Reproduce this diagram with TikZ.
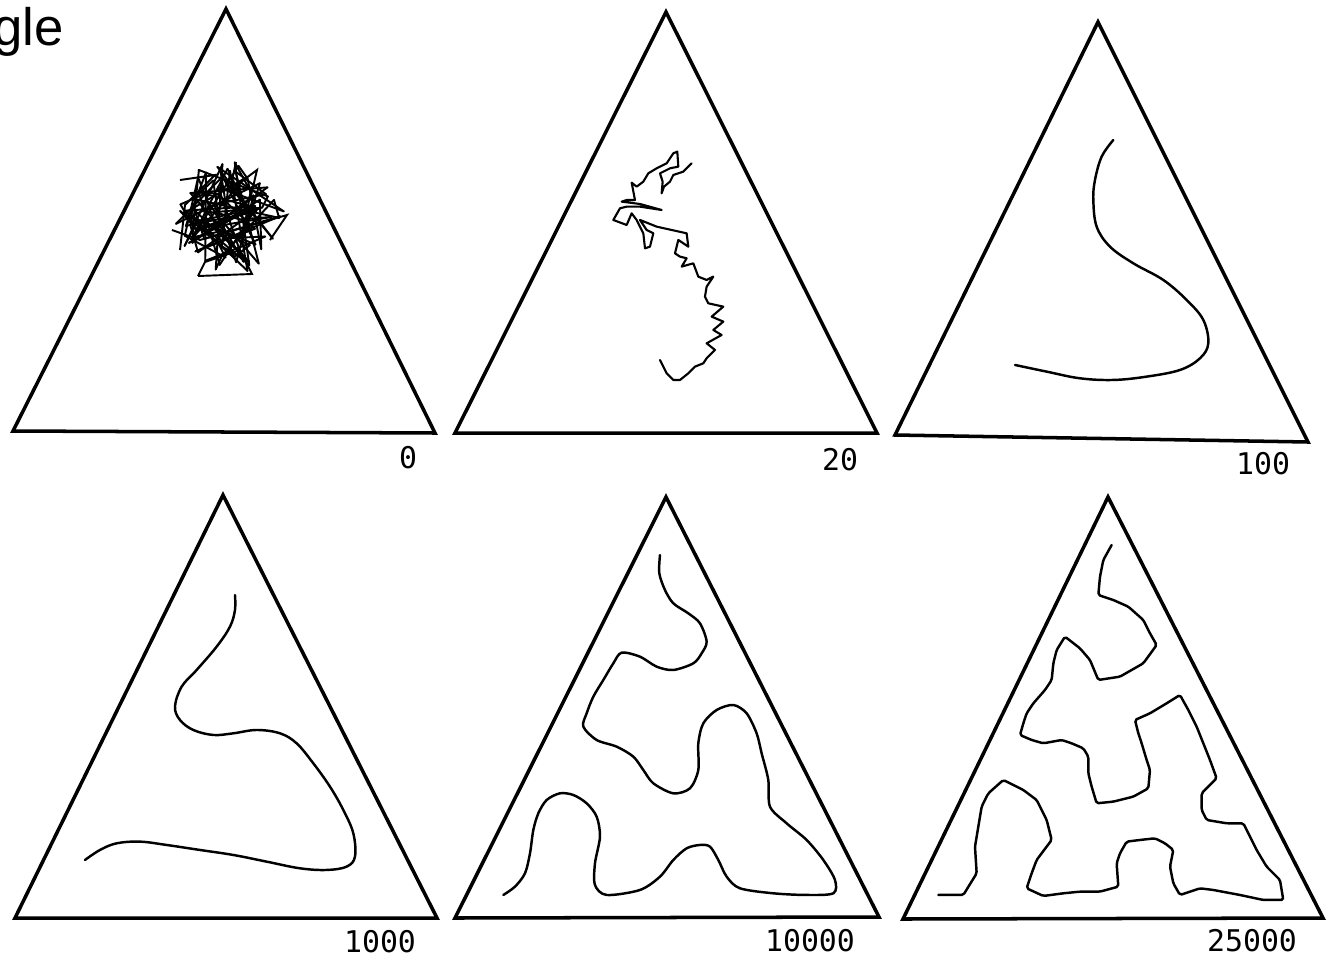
\documentclass[tikz,border=0pt]{standalone}
\usepackage{fontspec}
\newfontfamily\lblfont{DejaVu Sans Mono}
\newfontfamily\titlefont{Liberation Sans}
\begin{document}
\begin{tikzpicture}[x=0.02cm,y=-0.02cm,
  tri/.style={line width=2pt,line join=miter},
  chain/.style={line width=1.4pt,line join=round,line cap=round},
  lbl/.style={font=\lblfont\fontsize{17}{17}\selectfont,inner sep=0pt}]
\useasboundingbox (0,0) rectangle (1331,960);
\clip (0,0) rectangle (1331,960);
\fill[white] (0,0) rectangle (1331,960);
% title fragment
\node[font=\titlefont\fontsize{30}{30}\selectfont,anchor=base east,inner sep=0pt] (title) at (64,45) {gle};
% triangles
\draw[tri] (226,9) -- (13,431) -- (435,433) -- cycle;
\draw[tri] (666,12) -- (455,433) -- (877,433) -- cycle;
\draw[tri] (1098,22) -- (895,435) -- (1308,442) -- cycle;
\draw[tri] (223,495) -- (15,918) -- (437,918) -- cycle;
\draw[tri] (666,497) -- (455,918) -- (879,917) -- cycle;
\draw[tri] (1108,497) -- (903,919) -- (1323,918) -- cycle;
% labels
\node[lbl] (l0) at (408,458) {0};
\node[lbl] (l20) at (840,460) {20};
\node[lbl] (l100) at (1263,464) {100};
\node[lbl] (l1000) at (380,942) {1000};
\node[lbl] (l10000) at (810,941) {10000};
\node[lbl] (l25000) at (1252,941) {25000};
% panel 0: random initial chain
\pgfmathsetseed{47}
\xdef\px{228}\xdef\py{218}
\foreach \i in {1,...,100}{
  \pgfmathsetmacro\ang{360*rnd}
  \pgfmathsetmacro\rad{57*(rnd)^0.45}
  \pgfmathsetmacro\nx{229+\rad*cos(\ang)}
  \pgfmathsetmacro\ny{218+\rad*sin(\ang)}
  \draw[line width=1.1pt,line cap=round] (\px,\py) -- (\nx,\ny);
  \xdef\px{\nx}\xdef\py{\ny}
}
\draw[line width=1.1pt] (198,276) -- (252,274) -- (240,250) -- (205,262) -- (198,276);
\draw[line width=1.1pt] (236,162) -- (230,190) -- (257,170) -- (250,200);
\draw[line width=1.1pt] (172,230) -- (200,240) -- (287,215) -- (270,240);
\draw[line width=1.1pt] (180,180) -- (215,175) -- (185,205) -- (180,250);
% panel 20
\begin{scope}[shift={(440,0)},scale=0.3333]
\draw[chain,line width=1.2pt] (755,490) -- (730,515) -- (700,525) -- (690,545) -- (672,560) -- (665,580) -- (668,545) -- (660,520) -- (690,505) -- (715,500) -- (712,455) -- (700,460) -- (680,490) -- (650,505) -- (625,520) -- (610,545) -- (590,560) -- (575,548) -- (585,600) -- (560,600) -- (545,605) -- (600,612) -- (665,630) -- (600,620) -- (560,620) -- (540,625) -- (520,660) -- (560,675) -- (575,640) -- (590,660) -- (610,700) -- (615,745) -- (630,740) -- (640,700) -- (620,690) -- (600,660) -- (650,680) -- (740,700) -- (745,740) -- (715,720) -- (705,760) -- (720,770) -- (740,775) -- (725,800) -- (760,790) -- (775,830) -- (800,840) -- (820,830) -- (800,860) -- (795,890) -- (805,910) -- (850,920) -- (815,950) -- (850,965) -- (820,990) -- (845,1005) -- (800,1030) -- (825,1050) -- (800,1075) -- (790,1090) -- (765,1100) -- (745,1120) -- (720,1140) -- (700,1140) -- (680,1120) -- (670,1100) -- (660,1080);
\end{scope}
% panel 100
\begin{scope}[shift={(880,0)},scale=0.3333]
\draw[chain] plot[smooth,tension=0.6] coordinates {(700,420) (665,470) (645,540) (640,600) (650,680) (690,740) (760,790) (850,840) (920,900) (970,960) (985,1030) (960,1075) (900,1110) (800,1130) (700,1140) (600,1135) (500,1115) (405,1095)};
\end{scope}
% panel 1000
\begin{scope}[shift={(0,480)},scale=0.3333]
\draw[chain] plot[smooth,tension=0.6] coordinates {(705,345) (705,390) (690,440) (650,500) (590,570) (545,620) (525,680) (540,720) (580,750) (640,765) (700,760) (770,750) (840,760) (890,790) (940,850) (990,920) (1030,990) (1060,1060) (1065,1130) (1040,1160) (980,1170) (900,1165) (800,1145) (700,1125) (600,1110) (500,1095) (420,1085) (350,1090) (300,1110) (255,1140)};
\end{scope}
% panel 10000
\begin{scope}[shift={(440,480)},scale=0.3333]
\draw[chain] plot[smooth,tension=0.5] coordinates {(660,225) (658,280) (675,330) (700,370) (745,400) (780,430) (800,485) (785,520) (760,550) (700,570) (650,560) (600,530) (545,518) (520,550) (490,600) (460,650) (440,700) (430,740) (470,780) (530,800) (580,830) (610,870) (640,910) (700,940) (750,925) (775,870) (775,790) (790,730) (830,690) (880,675) (920,700) (950,760) (965,820) (985,900) (990,980) (1040,1030) (1100,1080) (1150,1140) (1185,1200) (1180,1240) (1100,1245) (1000,1240) (900,1225) (860,1190) (835,1140) (810,1100) (780,1095) (740,1105) (700,1140) (660,1190) (600,1230) (500,1245) (465,1215) (465,1150) (480,1070) (470,1010) (440,970) (400,945) (360,940) (320,960) (295,1000) (280,1050) (270,1120) (255,1180) (225,1220) (190,1245)};
\end{scope}
% panel 25000
\begin{scope}[shift={(880,480)},scale=0.3333]
\draw[chain,rounded corners=1pt] (695,195) -- (670,240) -- (660,290) -- (655,345) -- (700,360) -- (745,380) -- (790,420) -- (810,460) -- (830,495) -- (790,550) -- (720,590) -- (655,600) -- (630,540) -- (600,505) -- (555,470) -- (530,510) -- (520,550) -- (515,600) -- (495,630) -- (460,670) -- (440,700) -- (430,730) -- (420,765) -- (455,780) -- (490,790) -- (545,780) -- (575,790) -- (610,805) -- (625,830) -- (625,880) -- (635,920) -- (650,970) -- (700,965) -- (760,950) -- (805,925) -- (810,870) -- (800,840) -- (785,790) -- (775,760) -- (765,720) -- (810,700) -- (860,670) -- (900,645) -- (925,690) -- (950,740) -- (970,790) -- (990,840) -- (1010,895) -- (985,920) -- (965,940) -- (965,990) -- (980,1020) -- (1040,1030) -- (1090,1030) -- (1105,1060) -- (1130,1110) -- (1160,1160) -- (1200,1200) -- (1210,1260) -- (1150,1260) -- (1080,1245) -- (1000,1230) -- (960,1225) -- (900,1245) -- (880,1210) -- (870,1160) -- (880,1110) -- (855,1090) -- (825,1075) -- (780,1080) -- (740,1085) -- (720,1120) -- (710,1150) -- (715,1220) -- (660,1235) -- (600,1235) -- (550,1240) -- (490,1248) -- (440,1225) -- (455,1180) -- (470,1140) -- (500,1100) -- (515,1080) -- (500,1020) -- (470,960) -- (430,930) -- (370,900) -- (325,940) -- (305,980) -- (295,1040) -- (285,1100) -- (290,1180) -- (250,1245) -- (175,1245);
\end{scope}
\end{tikzpicture}
\end{document}
